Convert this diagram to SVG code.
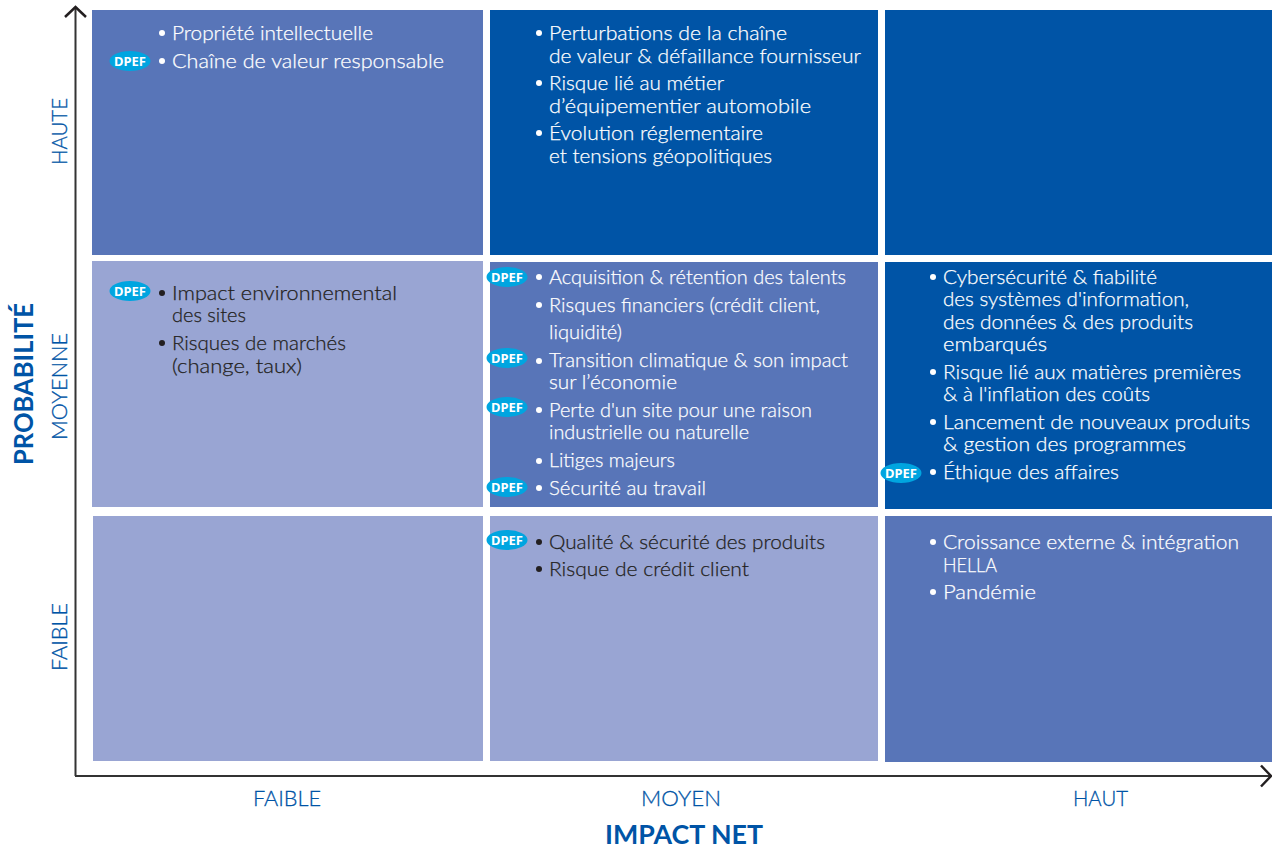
<svg xmlns="http://www.w3.org/2000/svg" width="1272" height="848" viewBox="0 0 1272 848">
<style>
text{font-family:"Lato","Noto Sans","Liberation Sans",sans-serif}
.l{font-size:20.500px;font-weight:300;fill:#fff;stroke:#fff;stroke-width:.25px}
.d{font-size:20.500px;font-weight:300;fill:#231f20;stroke:#231f20;stroke-width:.25px}
.w{fill:#fff}.k{fill:#231f20}
.mid{fill:#5875b8}.dark{fill:#0054a6}.light{fill:#99a5d3}
.b{fill:#00a5e0}
.bt{font-family:"Noto Sans","Liberation Sans",sans-serif;font-size:13px;font-weight:700;fill:#fff;text-anchor:middle}
.ax{font-size:22px;font-weight:300;fill:#0054a6;stroke:#0054a6;stroke-width:.3px}
.ti{font-size:26px;font-weight:700;fill:#0054a6}
.c{fill:none;stroke:#333;stroke-width:2}
</style>
<defs>
<marker id="a" markerUnits="userSpaceOnUse" markerWidth="24" markerHeight="28" refX="12" refY="14" orient="auto" overflow="visible">
<path d="M2 3.500L12 14L2 24.500" fill="none" stroke="#231f20" stroke-width="2.500"/>
</marker>
<ellipse id="bd" rx="20.500" ry="10" class="b"/>
</defs>
<g id="c11"><rect class="mid" x="92" y="10" width="391" height="245"/>
<circle class="w" cx="162" cy="33" r="3"/><text class="l" lengthAdjust="spacingAndGlyphs" x="172" y="40" textLength="201">Propriété intellectuelle</text>
<circle class="w" cx="162" cy="61" r="3"/><text class="l" lengthAdjust="spacingAndGlyphs" x="172" y="68" textLength="272">Chaîne de valeur responsable</text>
<use href="#bd" x="130" y="61"/><text class="bt" x="130" y="65.500">DPEF</text></g>
<g id="c12"><rect class="dark" x="490" y="10" width="388" height="245"/>
<circle class="w" cx="539" cy="33" r="3"/><text class="l" lengthAdjust="spacingAndGlyphs" x="549" y="40" textLength="238">Perturbations de la chaîne</text>
<text class="l" lengthAdjust="spacingAndGlyphs" x="549" y="63" textLength="312">de valeur &amp; défaillance fournisseur</text>
<circle class="w" cx="539" cy="83" r="3"/><text class="l" lengthAdjust="spacingAndGlyphs" x="549" y="90" textLength="175">Risque lié au métier</text>
<text class="l" lengthAdjust="spacingAndGlyphs" x="549" y="113" textLength="262">d’équipementier automobile</text>
<circle class="w" cx="539" cy="133" r="3"/><text class="l" lengthAdjust="spacingAndGlyphs" x="549" y="140" textLength="214">Évolution réglementaire</text>
<text class="l" lengthAdjust="spacingAndGlyphs" x="549" y="163" textLength="223">et tensions géopolitiques</text></g>
<g id="c13"><rect class="dark" x="885" y="10" width="387" height="245"/></g>
<g id="c21"><rect class="light" x="92" y="261" width="391" height="246"/>
<circle class="k" cx="162" cy="293" r="3"/><text class="d" lengthAdjust="spacingAndGlyphs" x="172" y="300" textLength="225">Impact environnemental</text>
<text class="d" lengthAdjust="spacingAndGlyphs" x="172" y="322" textLength="74">des sites</text>
<circle class="k" cx="162" cy="343" r="3"/><text class="d" lengthAdjust="spacingAndGlyphs" x="172" y="350" textLength="174">Risques de marchés</text>
<text class="d" lengthAdjust="spacingAndGlyphs" x="172" y="373" textLength="130">(change, taux)</text>
<use href="#bd" x="130" y="291"/><text class="bt" x="130" y="295.500">DPEF</text></g>
<g id="c22"><rect class="mid" x="490" y="262" width="388" height="245"/>
<circle class="w" cx="539" cy="277" r="3"/><text class="l" lengthAdjust="spacingAndGlyphs" x="549" y="284" textLength="297">Acquisition &amp; rétention des talents</text>
<circle class="w" cx="539" cy="305" r="3"/><text class="l" lengthAdjust="spacingAndGlyphs" x="549" y="312" textLength="271">Risques financiers (crédit client,</text>
<text class="l" lengthAdjust="spacingAndGlyphs" x="549" y="339" textLength="73">liquidité)</text>
<circle class="w" cx="539" cy="361" r="3"/><text class="l" lengthAdjust="spacingAndGlyphs" x="549" y="367" textLength="299">Transition climatique &amp; son impact</text>
<text class="l" lengthAdjust="spacingAndGlyphs" x="549" y="389" textLength="128">sur l’économie</text>
<circle class="w" cx="539" cy="410" r="3"/><text class="l" lengthAdjust="spacingAndGlyphs" x="549" y="417" textLength="263">Perte d'un site pour une raison</text>
<text class="l" lengthAdjust="spacingAndGlyphs" x="549" y="439" textLength="200">industrielle ou naturelle</text>
<circle class="w" cx="539" cy="461" r="3"/><text class="l" lengthAdjust="spacingAndGlyphs" x="549" y="467" textLength="126">Litiges majeurs</text>
<circle class="w" cx="539" cy="488" r="3"/><text class="l" lengthAdjust="spacingAndGlyphs" x="549" y="495" textLength="157">Sécurité au travail</text>
<use href="#bd" x="507" y="277"/><text class="bt" x="507" y="281.500">DPEF</text>
<use href="#bd" x="507" y="358"/><text class="bt" x="507" y="362.500">DPEF</text>
<use href="#bd" x="507" y="407"/><text class="bt" x="507" y="411.500">DPEF</text>
<use href="#bd" x="507" y="487"/><text class="bt" x="507" y="491.500">DPEF</text></g>
<g id="c23"><rect class="dark" x="885" y="262" width="387" height="247"/>
<circle class="w" cx="933" cy="277" r="3"/><text class="l" lengthAdjust="spacingAndGlyphs" x="943" y="284" textLength="214">Cybersécurité &amp; fiabilité</text>
<text class="l" lengthAdjust="spacingAndGlyphs" x="943" y="306" textLength="246">des systèmes d'information,</text>
<text class="l" lengthAdjust="spacingAndGlyphs" x="943" y="329" textLength="250">des données &amp; des produits</text>
<text class="l" lengthAdjust="spacingAndGlyphs" x="943" y="351" textLength="104">embarqués</text>
<circle class="w" cx="933" cy="372" r="3"/><text class="l" lengthAdjust="spacingAndGlyphs" x="943" y="379" textLength="298">Risque lié aux matières premières</text>
<text class="l" lengthAdjust="spacingAndGlyphs" x="943" y="401" textLength="207">&amp; à l'inflation des coûts</text>
<circle class="w" cx="933" cy="422" r="3"/><text class="l" lengthAdjust="spacingAndGlyphs" x="943" y="429" textLength="307">Lancement de nouveaux produits</text>
<text class="l" lengthAdjust="spacingAndGlyphs" x="943" y="451" textLength="243">&amp; gestion des programmes</text>
<circle class="w" cx="933" cy="472" r="3"/><text class="l" lengthAdjust="spacingAndGlyphs" x="943" y="479" textLength="176">Éthique des affaires</text>
<use href="#bd" x="901" y="473"/><text class="bt" x="901" y="477.500">DPEF</text></g>
<g id="c31"><rect class="light" x="93" y="516" width="390" height="245"/></g>
<g id="c32"><rect class="light" x="490" y="516" width="388" height="245"/>
<circle class="k" cx="539" cy="542" r="3"/><text class="d" lengthAdjust="spacingAndGlyphs" x="549" y="549" textLength="276">Qualité &amp; sécurité des produits</text>
<circle class="k" cx="539" cy="569" r="3"/><text class="d" lengthAdjust="spacingAndGlyphs" x="549" y="576" textLength="200">Risque de crédit client</text>
<use href="#bd" x="507" y="540"/><text class="bt" x="507" y="544.500">DPEF</text></g>
<g id="c33"><rect class="mid" x="885" y="516" width="387" height="246"/>
<circle class="w" cx="933" cy="542" r="3"/><text class="l" lengthAdjust="spacingAndGlyphs" x="943" y="549" textLength="296">Croissance externe &amp; intégration</text>
<text class="l" lengthAdjust="spacingAndGlyphs" x="943" y="572" textLength="54">HELLA</text>
<circle class="w" cx="933" cy="592" r="3"/><text class="l" lengthAdjust="spacingAndGlyphs" x="943" y="599" textLength="93">Pandémie</text></g>
<g id="connectors">
<path class="c" d="M75.500 776V7" marker-end="url(#a)"/>
<path class="c" d="M75 776H1271" marker-end="url(#a)"/>
</g>
<g id="axis-y">
<text class="ax" lengthAdjust="spacingAndGlyphs" transform="translate(66.500 165) rotate(-90)" textLength="67">HAUTE</text>
<text class="ax" lengthAdjust="spacingAndGlyphs" transform="translate(66.500 440) rotate(-90)" textLength="107">MOYENNE</text>
<text class="ax" lengthAdjust="spacingAndGlyphs" transform="translate(66.500 671) rotate(-90)" textLength="68">FAIBLE</text>
<text class="ti" lengthAdjust="spacingAndGlyphs" transform="translate(33 465) rotate(-90)" textLength="162">PROBABILITÉ</text>
</g>
<g id="axis-x">
<text class="ax" lengthAdjust="spacingAndGlyphs" x="253" y="806" textLength="68">FAIBLE</text>
<text class="ax" lengthAdjust="spacingAndGlyphs" x="641" y="806" textLength="80">MOYEN</text>
<text class="ax" lengthAdjust="spacingAndGlyphs" x="1073" y="806" textLength="55">HAUT</text>
<text class="ti" lengthAdjust="spacingAndGlyphs" x="605" y="844" textLength="158">IMPACT NET</text>
</g>
</svg>
